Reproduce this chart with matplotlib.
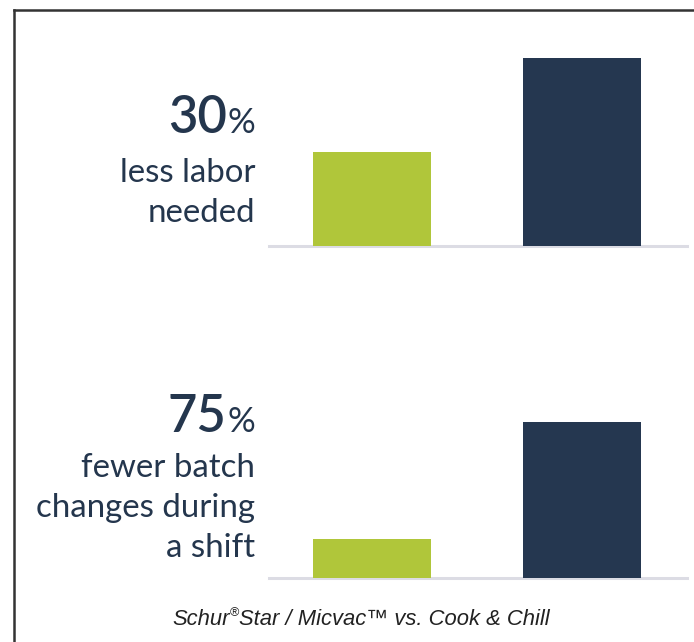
import matplotlib
matplotlib.use("Agg")
import matplotlib.pyplot as plt
from matplotlib.lines import Line2D

# data (relative bar heights)
groups = ["Schur®Star / Micvac™", "Cook & Chill"]
labor = [50, 100]
batch = [25, 100]
big_numbers = ["30", "75"]
captions = [["less labor", "needed"], ["fewer batch", "changes during", "a shift"]]
footer = ["Schur", "®", "Star / Micvac™ vs. Cook & Chill"]

NAVY = "#253750"
GREEN = "#b0c63a"
TXT = "#24364d"
W, H = 694, 642

fig = plt.figure(figsize=(W / 100, H / 100), dpi=100)
fig.patch.set_facecolor("white")


def fx(x):
    return x / W


def fy(y):
    return 1 - y / H


# frame lines (top and left)
fig.add_artist(Line2D([fx(14), fx(14)], [fy(10), 0], color="#333333", lw=1.8))
fig.add_artist(Line2D([fx(14), 1], [fy(10), fy(10)], color="#333333", lw=1.8))


def panel(base_y, top_y, values):
    ax = fig.add_axes([fx(269), fy(base_y), fx(687) - fx(269), (base_y - top_y) / H])
    ax.bar([0, 1], values, width=0.562, color=[GREEN, NAVY], zorder=2)
    ax.set_xlim(-0.49, 1.5)
    ax.set_ylim(0, 100)
    ax.axhline(0, color="#dcdce4", lw=2.2, zorder=1, clip_on=False)
    ax.axis("off")
    return ax


panel(246, 58, labor)
panel(578, 422, batch)

renderer = fig.canvas.get_renderer()


def big_pct(num, y):
    p = fig.text(fx(255), fy(y), "%", ha="right", va="baseline", fontsize=25,
                 family="Lato", color=TXT)
    bb = p.get_window_extent(renderer)
    fig.text(bb.x0 / W - 0.001, fy(y), num, ha="right", va="baseline", fontsize=36.5,
             family="Lato", weight="semibold", color=TXT)


big_pct(big_numbers[0], 133)
big_pct(big_numbers[1], 432)

for lines, y0 in zip(captions, [182, 477]):
    for i, s in enumerate(lines):
        fig.text(fx(255), fy(y0 + 40 * i), s, ha="right", va="baseline", fontsize=23.8,
                 family="Lato", color=TXT)

# footer with raised registered mark
x = 172
t = fig.text(fx(x), fy(625), footer[0], ha="left", va="baseline", fontsize=15.8,
             family="Liberation Sans", style="italic", color="#222222")
x = t.get_window_extent(renderer).x1
t = fig.text(x / W, fy(616), footer[1], ha="left", va="baseline", fontsize=9,
             family="Liberation Sans", color="#222222")
x = t.get_window_extent(renderer).x1
fig.text(x / W, fy(625), footer[2], ha="left", va="baseline", fontsize=15.8,
         family="Liberation Sans", style="italic", color="#222222")

fig.savefig("out.png", dpi=100)
